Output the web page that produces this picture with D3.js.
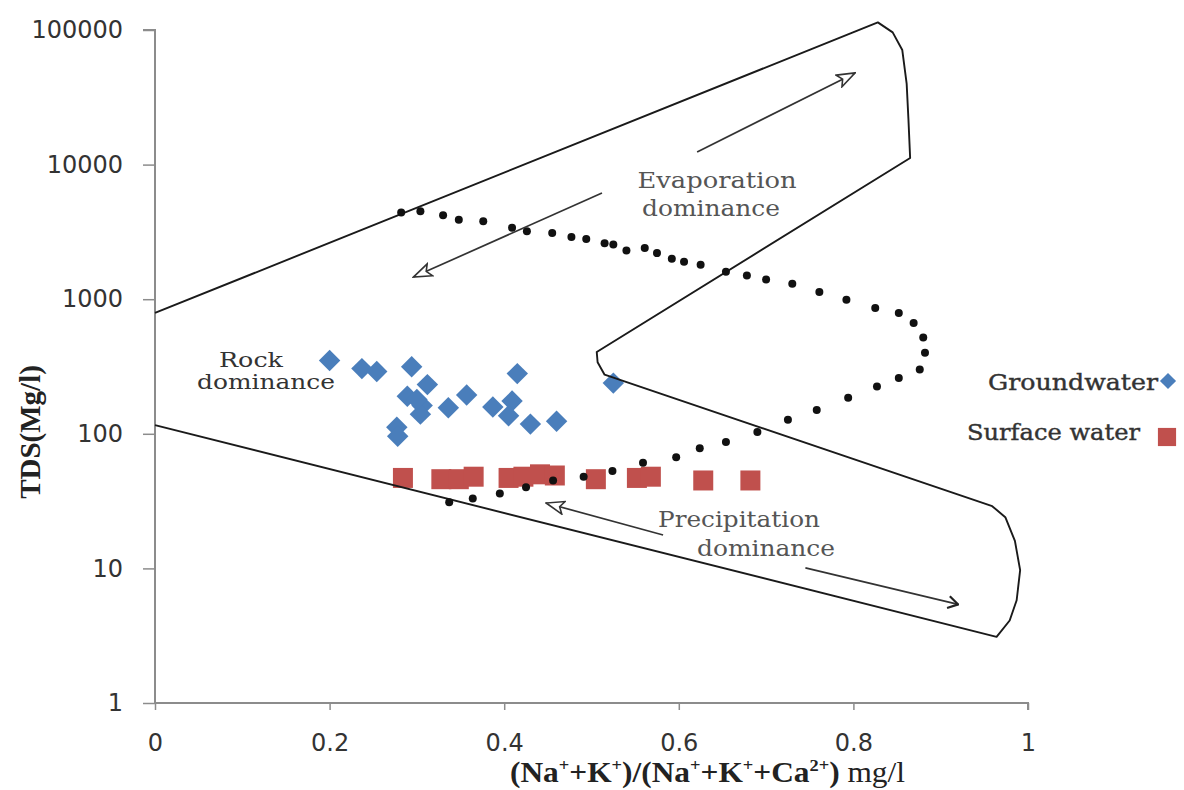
<!DOCTYPE html>
<html>
<head>
<meta charset="utf-8">
<script src="https://cdn.jsdelivr.net/npm/d3@7"></script>
<style>
  html, body { margin: 0; padding: 0; background: #fff; }
  svg { display: block; }
</style>
</head>
<body>
<div id="chart"></div>
<script>
// Gibbs diagram: TDS against Na+K/(Na+K+Ca), groundwater and surface water samples

const xTicks = [0, 0.2, 0.4, 0.6, 0.8, 1];
const xTickLabels = ["0", "0.2", "0.4", "0.6", "0.8", "1"];
const yTicks = [1, 10, 100, 1000, 10000, 100000];
const yTickLabels = ["1", "10", "100", "1000", "10000", "100000"];

// samples
const groundRatio = [0.200, 0.237, 0.254, 0.294, 0.312, 0.289, 0.306, 0.304, 0.336, 0.357, 0.387, 0.415, 0.409, 0.405, 0.430, 0.460, 0.277, 0.278, 0.525, 0.300];
const groundTDS   = [350,   305,   290,   315,   232,   190,   162,   140,   156,   194,   158,   280,   175,   136,   118,   124,   112,   96,    238,   180];
const surfaceRatio = [0.284, 0.328, 0.348, 0.365, 0.405, 0.422, 0.441, 0.458, 0.505, 0.552, 0.568, 0.628, 0.682];
const surfaceTDS   = [47,    46,    46,    48,    47,    48,    50,    49,    46,    47,    48,    45,    45];

// Gibbs boundary envelope (one continuous outline)
const boundaryRatio = [0, 0.828, 0.845, 0.856, 0.861, 0.863, 0.865, 0.506, 0.507, 0.515, 0.959, 0.974, 0.985, 0.991, 0.987, 0.979, 0.964, 0];
const boundaryTDS   = [790, 114000, 96000, 71000, 40000, 22000, 11200, 405, 340, 275, 29, 24, 16, 9.7, 5.8, 4.1, 3.1, 116];

// dotted world-water curve
const dotRatio = [0.282, 0.304, 0.330, 0.348, 0.376, 0.409, 0.426, 0.455, 0.477, 0.494, 0.515, 0.525, 0.540, 0.561, 0.575, 0.592, 0.606, 0.625, 0.654, 0.678, 0.700, 0.730, 0.761, 0.792, 0.825, 0.852, 0.869, 0.880, 0.882, 0.876, 0.852, 0.827, 0.794, 0.758, 0.725, 0.690, 0.654, 0.624, 0.597, 0.559, 0.524, 0.491, 0.456, 0.425, 0.395, 0.364, 0.337];
const dotTDS   = [4400,  4500,  4200,  3900,  3800,  3400,  3200,  3100,  2900,  2800,  2600,  2550,  2300,  2400,  2200,  2000,  1900,  1800,  1600,  1500,  1400,  1300,  1130,  990,   860,   790,   665,   520,   400,   300,   260,   225,   185,   150,   127,   103,   87,    78,    67,    61,    53,    48,    45,    40,    36,    33,    31];

// direction arrows
const arrowFromRatio = [0.621, 0.512, 0.582, 0.745];
const arrowFromTDS   = [12400, 6150, 17.7, 10.1];
const arrowToRatio   = [0.802, 0.296, 0.448, 0.920];
const arrowToTDS     = [48000, 1460, 30.6, 5.4];
const arrowHeads     = ["open", "open", "open", "barb"];

const W = 1184, H = 790;
const margin = {left: 155, right: 156, top: 30, bottom: 87};

const svg = d3.select("#chart").append("svg")
  .attr("width", W)
  .attr("height", H);

const x = d3.scaleLinear().domain([0, 1]).range([margin.left, W - margin.right]);
const y = d3.scaleLog().domain([1, 100000]).range([H - margin.bottom, margin.top]);

const defs = svg.append("defs");
defs.append("marker")
  .attr("id", "head-open")
  .attr("markerUnits", "userSpaceOnUse")
  .attr("viewBox", "0 0 20 16")
  .attr("refX", 19).attr("refY", 8)
  .attr("markerWidth", 20).attr("markerHeight", 16)
  .attr("orient", "auto")
  .append("path")
  .attr("d", "M1,1.5 L19,8 L1,14.5 L5,8 Z")
  .attr("fill", "#fff")
  .attr("stroke", "#333")
  .attr("stroke-width", 1.6);
defs.append("marker")
  .attr("id", "head-barb")
  .attr("markerUnits", "userSpaceOnUse")
  .attr("viewBox", "0 0 14 14")
  .attr("refX", 13).attr("refY", 7)
  .attr("markerWidth", 14).attr("markerHeight", 14)
  .attr("orient", "auto")
  .append("path")
  .attr("d", "M3,1 L13,7 L3,13")
  .attr("fill", "none")
  .attr("stroke", "#222")
  .attr("stroke-width", 2.2);

// axes
const axisColor = "#8c8c8c";
const labelFont = "'DejaVu Sans', Verdana, sans-serif";

const yAxis = svg.append("g")
  .attr("transform", `translate(${margin.left},0)`)
  .call(d3.axisLeft(y).tickValues(yTicks).tickFormat((d, i) => yTickLabels[i]).tickSize(12).tickPadding(20));
yAxis.select(".domain").attr("stroke", axisColor).attr("stroke-width", 2).attr("d", `M-12,${y(100000)}H0V${y(1)}`);
yAxis.selectAll(".tick line").attr("stroke", axisColor).attr("stroke-width", 1.5);
yAxis.selectAll(".tick text")
  .attr("font-family", labelFont).attr("font-size", 24).attr("fill", "#333");

const xAxis = svg.append("g")
  .attr("transform", `translate(0,${y(1)})`)
  .call(d3.axisBottom(x).tickValues(xTicks).tickFormat((d, i) => xTickLabels[i]).tickSize(7).tickPadding(24));
xAxis.select(".domain").attr("stroke", axisColor).attr("stroke-width", 2).attr("d", `M${x(0)},0H${x(1)}V7`);
xAxis.selectAll(".tick line").attr("stroke", axisColor).attr("stroke-width", 1.5);
xAxis.selectAll(".tick text")
  .attr("font-family", labelFont).attr("font-size", 24).attr("fill", "#333");

// axis titles
svg.append("text")
  .attr("transform", "translate(40,432) rotate(-90)")
  .attr("text-anchor", "middle")
  .attr("font-family", "'Liberation Serif', 'Times New Roman', serif")
  .attr("font-weight", "bold")
  .attr("font-size", 29)
  .attr("fill", "#222")
  .text("TDS(Mg/l)");

const xt = svg.append("text")
  .attr("x", 510).attr("y", 782)
  .attr("textLength", 395).attr("lengthAdjust", "spacingAndGlyphs")
  .attr("font-family", "'Liberation Serif', 'Times New Roman', serif")
  .attr("font-size", 29)
  .attr("fill", "#222");
const xtParts = [
  ["(Na", false, true], ["+", true, true], ["+K", false, true], ["+", true, true],
  [")/(Na", false, true], ["+", true, true], ["+K", false, true], ["+", true, true],
  ["+Ca", false, true], ["2+", true, true], [")", false, true], [" mg/l", false, false]
];
xtParts.forEach(([t, sup, bold]) => {
  xt.append("tspan")
    .attr("font-weight", bold ? "bold" : "normal")
    .attr("font-size", sup ? 17 : 29)
    .attr("baseline-shift", sup ? "11" : null)
    .text(t);
});

// samples (under the template lines)
const blue = "#4a7ebb", red = "#c0504d";
svg.append("g").selectAll("path")
  .data(surfaceRatio.map((r, i) => [r, surfaceTDS[i]]))
  .join("path")
  .attr("d", d3.symbol(d3.symbolSquare, 400))
  .attr("transform", d => `translate(${x(d[0])},${y(d[1])})`)
  .attr("fill", red);

svg.append("g").selectAll("path")
  .data(groundRatio.map((r, i) => [r, groundTDS[i]]))
  .join("path")
  .attr("d", d3.symbol(d3.symbolSquare, 230))
  .attr("transform", d => `translate(${x(d[0])},${y(d[1])}) rotate(45)`)
  .attr("fill", blue);

// Gibbs envelope
const line = d3.line().x(d => x(d[0])).y(d => y(d[1]));
svg.append("path")
  .datum(boundaryRatio.map((r, i) => [r, boundaryTDS[i]]))
  .attr("d", line)
  .attr("fill", "none")
  .attr("stroke", "#1a1a1a")
  .attr("stroke-width", 1.9)
  .attr("stroke-linejoin", "round");

// dotted curve
svg.append("g").selectAll("circle")
  .data(dotRatio.map((r, i) => [r, dotTDS[i]]))
  .join("circle")
  .attr("cx", d => x(d[0]))
  .attr("cy", d => y(d[1]))
  .attr("r", 4)
  .attr("fill", "#111");

// arrows
svg.append("g").selectAll("line")
  .data(arrowFromRatio.map((r, i) => ({x1: r, y1: arrowFromTDS[i], x2: arrowToRatio[i], y2: arrowToTDS[i], head: arrowHeads[i]})))
  .join("line")
  .attr("x1", d => x(d.x1)).attr("y1", d => y(d.y1))
  .attr("x2", d => x(d.x2)).attr("y2", d => y(d.y2))
  .attr("stroke", "#333")
  .attr("stroke-width", 1.7)
  .attr("marker-end", d => `url(#head-${d.head})`);

// region labels
const serif = "'DejaVu Serif', Georgia, serif";
const labels = [
  {t: "Evaporation", x: 717, y: 188, len: 159, c: "#555", s: 22},
  {t: "dominance",   x: 711, y: 216, len: 138, c: "#555", s: 22},
  {t: "Rock",        x: 251, y: 367, len: 64,  c: "#333", s: 20},
  {t: "dominance",   x: 266, y: 389, len: 138, c: "#333", s: 20},
  {t: "Precipitation", x: 739, y: 527, len: 162, c: "#555", s: 22},
  {t: "dominance",   x: 766, y: 556, len: 138, c: "#555", s: 22}
];
svg.append("g").selectAll("text")
  .data(labels)
  .join("text")
  .attr("x", d => d.x - d.len / 2)
  .attr("y", d => d.y)
  .attr("textLength", d => d.len)
  .attr("lengthAdjust", "spacingAndGlyphs")
  .attr("font-family", serif)
  .attr("font-size", d => d.s)
  .attr("fill", d => d.c)
  .text(d => d.t);

// legend
const legend = svg.append("g");
legend.append("text")
  .attr("x", 988).attr("y", 390)
  .attr("textLength", 170).attr("lengthAdjust", "spacingAndGlyphs")
  .attr("font-family", serif).attr("font-size", 22)
  .attr("fill", "#333").attr("stroke", "#333").attr("stroke-width", 0.4)
  .text("Groundwater");
legend.append("path")
  .attr("d", d3.symbol(d3.symbolSquare, 130))
  .attr("transform", "translate(1168,381) rotate(45)")
  .attr("fill", blue);
legend.append("text")
  .attr("x", 967).attr("y", 440)
  .attr("textLength", 173).attr("lengthAdjust", "spacingAndGlyphs")
  .attr("font-family", serif).attr("font-size", 22)
  .attr("fill", "#333").attr("stroke", "#333").attr("stroke-width", 0.4)
  .text("Surface water");
legend.append("path")
  .attr("d", d3.symbol(d3.symbolSquare, 330))
  .attr("transform", "translate(1167,437)")
  .attr("fill", red);
</script>
</body>
</html>
